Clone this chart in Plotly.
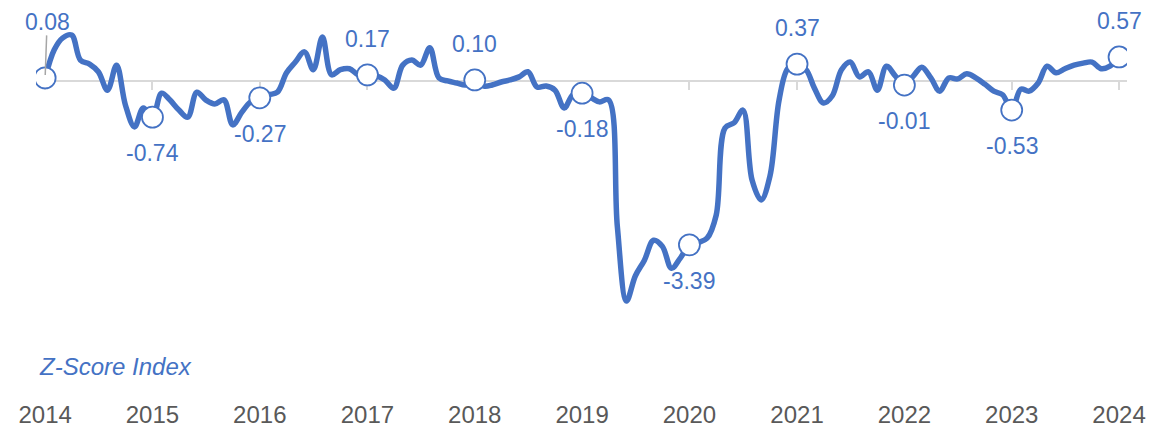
import plotly.graph_objects as go
import pandas as pd

# monthly z-score index, Jan 2014 .. Jan 2024
months = pd.date_range(start="2014-01-01", periods=121, freq="MS")
zscore = [
    0.07, 0.62, 0.85, 0.91, 0.42, 0.34, 0.19, -0.17, 0.32, -0.46, -0.89, -0.52,   # 2014
    -0.70, -0.23, -0.36, -0.56, -0.70, -0.21, -0.36, -0.44, -0.36, -0.85, -0.60, -0.40,  # 2015
    -0.32, -0.26, -0.21, 0.17, 0.38, 0.58, 0.23, 0.87, 0.13, 0.23, 0.25, 0.13,  # 2016
    0.13, 0.11, 0.03, -0.13, 0.32, 0.42, 0.32, 0.66, 0.07, 0.01, -0.03, -0.07,  # 2017
    0.03, -0.09, -0.07, -0.01, 0.03, 0.09, 0.19, -0.11, -0.09, -0.17, -0.52, -0.26,  # 2018
    -0.23, -0.32, -0.40, -0.36, -2.85, -4.30, -3.81, -3.50, -3.11, -3.23, -3.66, -3.46,  # 2019
    -3.20, -3.15, -3.07, -2.62, -0.91, -0.81, -0.56, -1.93, -2.32, -1.85, -0.36, 0.26,  # 2020
    0.34, 0.23, -0.13, -0.42, -0.28, 0.23, 0.38, 0.09, 0.19, -0.17, 0.30, 0.11,  # 2021
    -0.07, 0.11, 0.28, 0.07, -0.19, 0.07, 0.05, 0.15, 0.07, -0.05, -0.19, -0.26,  # 2022
    -0.56, -0.15, -0.19, -0.03, 0.30, 0.17, 0.25, 0.32, 0.36, 0.38, 0.25, 0.30,  # 2023
    0.48,  # Jan 2024
]

years = list(range(2014, 2025))
year_labels = ["0.08", "-0.74", "-0.27", "0.17", "0.10", "-0.18",
               "-3.39", "0.37", "-0.01", "-0.53", "0.57"]

BLUE = "#4472C4"
GREY = "#d9d9d9"
FONT = "Liberation Sans, Arial, sans-serif"
y_range = [-6.2, 1.4]
x_range = ["2013-12-01", "2024-01-28"]
tick_dates = [f"{y}-01-01" for y in years]

# markers sit on the line at January of each year
mark_x = [months[12 * i] for i in range(len(years))]
mark_y = [zscore[12 * i] for i in range(len(years))]

fig = go.Figure()

fig.add_trace(go.Scatter(
    x=months, y=zscore, mode="lines",
    line=dict(color=BLUE, width=5.5, shape="spline", smoothing=1),
    hoverinfo="skip", showlegend=False,
))

fig.add_trace(go.Scatter(
    x=mark_x, y=mark_y, mode="markers", xaxis="x2",
    marker=dict(size=21, color="white", line=dict(color=BLUE, width=1.8)),
    showlegend=False,
))

# data labels
annotations = []
for i, (lx, ly, txt) in enumerate(zip(mark_x, mark_y, year_labels)):
    if i == 0:
        # first label was dragged up, with a leader line
        annotations.append(dict(
            x=lx, y=ly, xref="x", yref="y", text=txt, showarrow=True,
            ax=2, ay=-56, arrowhead=0, arrowwidth=1.5, arrowcolor="#a6a6a6",
            standoff=3, borderpad=0, font=dict(family=FONT, size=23, color=BLUE),
        ))
        continue
    shift = 36 if not txt.startswith("-") else -36
    annotations.append(dict(
        x=lx, y=ly, xref="x", yref="y", text=txt, showarrow=False,
        yshift=shift, font=dict(family=FONT, size=23, color=BLUE),
    ))

annotations.append(dict(
    x=0.001, y=0.08, xref="paper", yref="paper", xanchor="left", yanchor="middle",
    text="<i>Z-Score Index</i>", showarrow=False,
    font=dict(family=FONT, size=24, color=BLUE),
))

zero_pos = (0 - y_range[0]) / (y_range[1] - y_range[0])

# page body has an 8px margin, so the figure is 8px smaller than the window
fig.update_layout(
    width=1162, height=422,
    margin=dict(l=28, r=43, t=2, b=32, autoexpand=False),
    paper_bgcolor="white", plot_bgcolor="white",
    font=dict(family=FONT),
    xaxis=dict(
        type="date", range=x_range, tickvals=tick_dates, ticktext=[str(y) for y in years],
        showgrid=False, zeroline=False, showline=False, ticks="", automargin=False,
        tickfont=dict(family=FONT, size=24, color="#595959"),
    ),
    xaxis2=dict(
        type="date", range=x_range, overlaying="x", anchor="free", position=zero_pos,
        tickvals=tick_dates, showticklabels=False, showgrid=False, zeroline=False,
        showline=True, linecolor=GREY, linewidth=2, automargin=False,
        ticks="outside", ticklen=8, tickwidth=2, tickcolor=GREY, layer="below traces",
    ),
    yaxis=dict(range=y_range, visible=False, automargin=False),
    annotations=annotations,
)

fig.write_html("out.html")
